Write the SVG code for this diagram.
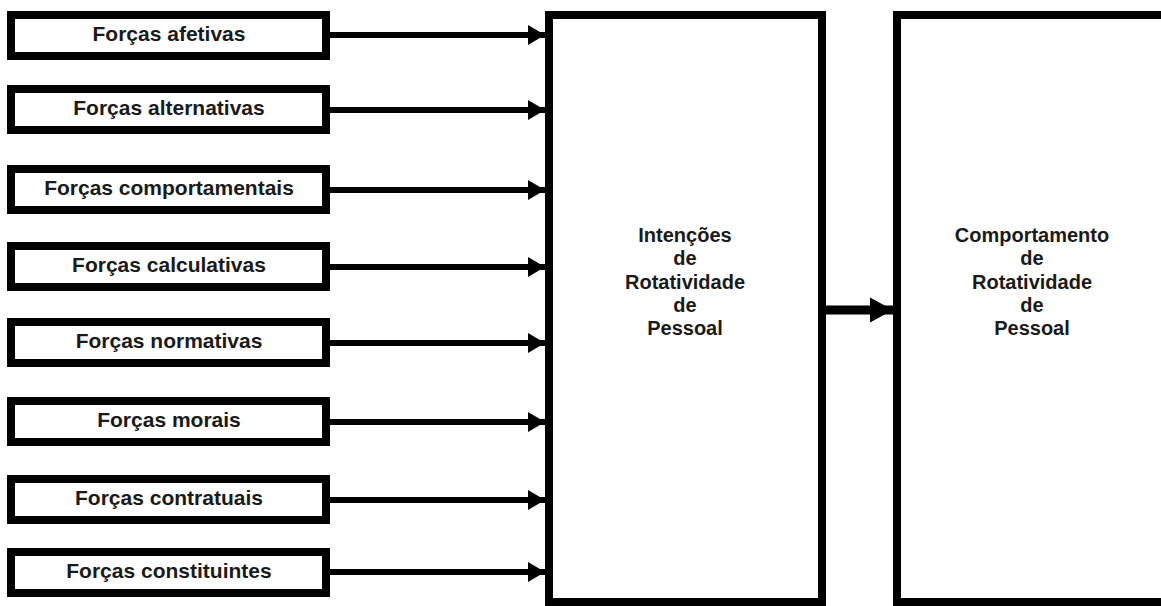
<svg xmlns="http://www.w3.org/2000/svg" width="1161" height="606" viewBox="0 0 1161 606">
<style>
.box{fill:#fff;stroke:#000;stroke-width:8}
.lbl{font-family:"Liberation Sans",Arial,sans-serif;font-weight:bold;font-size:21px;fill:#1a1a1a;text-anchor:middle}
.big{font-family:"Liberation Sans",Arial,sans-serif;font-weight:bold;font-size:20px;fill:#1a1a1a;text-anchor:middle}
.ln{stroke:#000;stroke-width:6;fill:none}
.ln2{stroke:#000;stroke-width:9;fill:none}
</style>
<defs>
<marker id="ah" markerUnits="userSpaceOnUse" markerWidth="18" markerHeight="22" refX="17" refY="11" orient="auto">
<path d="M0,1 L17,11 L0,21 Z" fill="#000"/>
</marker>
<marker id="ah2" markerUnits="userSpaceOnUse" markerWidth="24" markerHeight="28" refX="23" refY="13" orient="auto">
<path d="M0,0.5 L23,13 L0,25.5 Z" fill="#000"/>
</marker>
</defs>
<rect width="1161" height="606" fill="#fff"/>
<g id="connectors">
<line class="ln" x1="330" y1="35" x2="545" y2="35" marker-end="url(#ah)"/>
<line class="ln" x1="330" y1="110" x2="545" y2="110" marker-end="url(#ah)"/>
<line class="ln" x1="330" y1="190" x2="545" y2="190" marker-end="url(#ah)"/>
<line class="ln" x1="330" y1="267" x2="545" y2="267" marker-end="url(#ah)"/>
<line class="ln" x1="330" y1="343" x2="545" y2="343" marker-end="url(#ah)"/>
<line class="ln" x1="330" y1="422" x2="545" y2="422" marker-end="url(#ah)"/>
<line class="ln" x1="330" y1="500" x2="545" y2="500" marker-end="url(#ah)"/>
<line class="ln" x1="330" y1="572" x2="545" y2="572" marker-end="url(#ah)"/>
<line class="ln2" x1="826" y1="310" x2="893" y2="310" marker-end="url(#ah2)"/>
</g>
<g id="n1"><rect class="box" x="11" y="15" width="315" height="41"/><text class="lbl" x="169" y="41">Forças afetivas</text></g>
<g id="n2"><rect class="box" x="11" y="89" width="315" height="41"/><text class="lbl" x="169" y="115">Forças alternativas</text></g>
<g id="n3"><rect class="box" x="11" y="169" width="315" height="41"/><text class="lbl" x="169" y="195">Forças comportamentais</text></g>
<g id="n4"><rect class="box" x="11" y="246" width="315" height="41"/><text class="lbl" x="169" y="272">Forças calculativas</text></g>
<g id="n5"><rect class="box" x="11" y="322" width="315" height="41"/><text class="lbl" x="169" y="348">Forças normativas</text></g>
<g id="n6"><rect class="box" x="11" y="401" width="315" height="41"/><text class="lbl" x="169" y="427">Forças morais</text></g>
<g id="n7"><rect class="box" x="11" y="479" width="315" height="41"/><text class="lbl" x="169" y="505">Forças contratuais</text></g>
<g id="n8"><rect class="box" x="11" y="552" width="315" height="41"/><text class="lbl" x="169" y="578">Forças constituintes</text></g>
<g id="intencoes"><rect class="box" x="549" y="15" width="273" height="587"/>
<text class="big" x="685" y="242">Intenções</text>
<text class="big" x="685" y="265">de</text>
<text class="big" x="685" y="289">Rotatividade</text>
<text class="big" x="685" y="312">de</text>
<text class="big" x="685" y="335">Pessoal</text></g>
<g id="comportamento"><rect class="box" x="897" y="15" width="280" height="587"/>
<text class="big" x="1032" y="242">Comportamento</text>
<text class="big" x="1032" y="265">de</text>
<text class="big" x="1032" y="289">Rotatividade</text>
<text class="big" x="1032" y="312">de</text>
<text class="big" x="1032" y="335">Pessoal</text></g>
</svg>
